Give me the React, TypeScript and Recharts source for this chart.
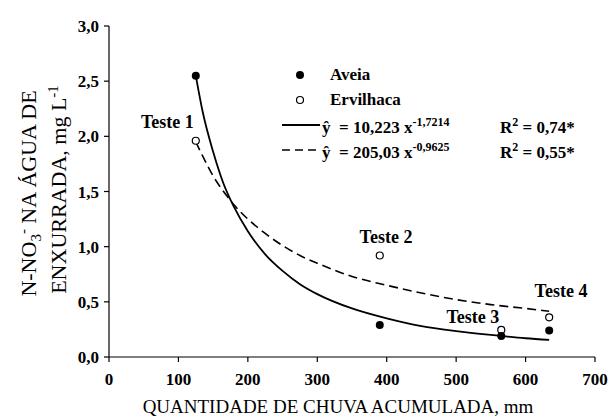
import { ComposedChart, XAxis, YAxis, Scatter, Line, Legend } from 'recharts';

const FONT = "'Liberation Serif', 'DejaVu Serif', serif";

const xTicks = [0, 100, 200, 300, 400, 500, 600, 700];
const yTicks = [0, 0.5, 1, 1.5, 2, 2.5, 3];

// observed points, one per test
const testeRain = [125, 390, 565, 634];
const aveiaNo3 = [2.55, 0.29, 0.19, 0.24];
const ervilhacaNo3 = [1.96, 0.92, 0.245, 0.36];

// fitted curves
const curveRain = [125, 135, 150, 165, 180, 200, 225, 250, 275, 300, 350, 400, 450, 500, 550, 600, 634];
const aveiaFit = [2.55, 2.22, 1.86, 1.57, 1.36, 1.14, 0.93, 0.78, 0.66, 0.57, 0.44, 0.35, 0.28, 0.235, 0.2, 0.17, 0.155];
const ervilhacaFit = [1.95, 1.82, 1.64, 1.5, 1.38, 1.25, 1.12, 1.01, 0.92, 0.85, 0.73, 0.65, 0.58, 0.52, 0.475, 0.44, 0.415];

const testeLabels = ['Teste 1', 'Teste 2', 'Teste 3', 'Teste 4'];
const labelRain = [84, 399, 524, 651];
const labelNo3 = [2.08, 1.03, 0.31, 0.54];

const aveiaPts = testeRain.map((x, i) => ({ x, y: aveiaNo3[i] }));
const ervilhacaPts = testeRain.map((x, i) => ({ x, y: ervilhacaNo3[i] }));
const aveiaCurve = curveRain.map((x, i) => ({ x, y: aveiaFit[i] }));
const ervilhacaCurve = curveRain.map((x, i) => ({ x, y: ervilhacaFit[i] }));
const labelPts = testeLabels.map((name, i) => ({ x: labelRain[i], y: labelNo3[i], name }));

const fmtY = (v: number) => v.toFixed(1).replace('.', ',');

function FilledDot(props: any) {
  return <circle cx={props.cx} cy={props.cy} r={4} fill="#000" />;
}

function OpenDot(props: any) {
  return <circle cx={props.cx} cy={props.cy} r={3.5} fill="#fff" stroke="#000" strokeWidth={1.2} />;
}

function TestLabel(props: any) {
  return (
    <text x={props.cx} y={props.cy} textAnchor="middle" style={{ fontFamily: FONT }} fontWeight="bold" fontSize={18} fill="#000">
      {props.payload.name}
    </text>
  );
}

function YTitle(props: any) {
  const vb = props.viewBox;
  const cy = vb.y + vb.height / 2;
  return (
    <g style={{ fontFamily: FONT }} fontSize={22} fill="#000">
      <text x={36} y={cy + 2} textAnchor="middle" transform={`rotate(-90, 36, ${cy + 2})`}>
        N-NO<tspan dy={5} fontSize={15}>3</tspan>
        <tspan dy={-13} fontSize={15}>-</tspan>
        <tspan dy={8}> NA ÁGUA DE</tspan>
      </text>
      <text x={66} y={cy - 2} textAnchor="middle" transform={`rotate(-90, 66, ${cy - 2})`}>
        ENXURRADA, mg L<tspan dy={-8} fontSize={15}>-1</tspan>
      </text>
    </g>
  );
}

function XTitle(props: any) {
  const vb = props.viewBox;
  return (
    <text x={vb.x + vb.width / 2 - 14} y={vb.y + 56} textAnchor="middle" style={{ fontFamily: FONT }} fontSize={19} fill="#000">
      QUANTIDADE DE CHUVA ACUMULADA, mm
    </text>
  );
}

function LegendBox() {
  const row = { display: 'flex', alignItems: 'center', height: 25, whiteSpace: 'nowrap' as const };
  const sym = { width: 44, display: 'flex', justifyContent: 'center' };
  return (
    <div style={{ fontFamily: FONT, fontSize: 17, fontWeight: 'bold', color: '#000', lineHeight: '25px' }}>
      <div style={row}>
        <span style={sym}><svg width={10} height={10}><circle cx={5} cy={5} r={4} fill="#000" /></svg></span>
        <span style={{ marginLeft: 8 }}>Aveia</span>
      </div>
      <div style={row}>
        <span style={sym}><svg width={10} height={10}><circle cx={5} cy={5} r={3.5} fill="#fff" stroke="#000" strokeWidth={1.2} /></svg></span>
        <span style={{ marginLeft: 8 }}>Ervilhaca</span>
      </div>
      <div style={row}>
        <span style={sym}><svg width={40} height={6}><line x1={2} y1={3} x2={40} y2={3} stroke="#000" strokeWidth={1.8} /></svg></span>
        <span style={{ width: 178 }}>ŷ&nbsp;&nbsp;= 10,223 x<sup style={{ fontSize: 12 }}>-1,7214</sup></span>
        <span>R<sup style={{ fontSize: 12 }}>2</sup> = 0,74*</span>
      </div>
      <div style={row}>
        <span style={sym}><svg width={40} height={6}><line x1={2} y1={3} x2={40} y2={3} stroke="#000" strokeWidth={1.5} strokeDasharray="8 5" /></svg></span>
        <span style={{ width: 178 }}>ŷ&nbsp;&nbsp;= 205,03 x<sup style={{ fontSize: 12 }}>-0,9625</sup></span>
        <span>R<sup style={{ fontSize: 12 }}>2</sup> = 0,55*</span>
      </div>
    </div>
  );
}

export default function App() {
  const tick = { fill: '#000', fontSize: 17, fontWeight: 'bold', style: { fontFamily: FONT } };
  return (
    <div style={{ position: 'fixed', left: 0, top: 0, width: 613, height: 417, background: '#fff', fontFamily: FONT }}>
      <ComposedChart width={613} height={417} margin={{ top: 26, right: 18, left: 0, bottom: 0 }} style={{ fontFamily: FONT }}>
        <XAxis
          dataKey="x"
          type="number"
          domain={[0, 700]}
          ticks={xTicks}
          tick={tick}
          tickSize={5}
          tickMargin={11}
          height={60}
          stroke="#000"
          strokeWidth={1.2}
          label={{ content: XTitle }}
        />
        <YAxis
          dataKey="y"
          type="number"
          domain={[0, 3]}
          ticks={yTicks}
          tickFormatter={fmtY}
          tick={tick}
          tickSize={5}
          tickMargin={5}
          width={109}
          stroke="#000"
          strokeWidth={1.2}
          label={{ content: YTitle }}
        />
        <Line data={aveiaCurve} dataKey="y" type="monotone" stroke="#000" strokeWidth={1.8} dot={false} isAnimationActive={false} />
        <Line data={ervilhacaCurve} dataKey="y" type="monotone" stroke="#000" strokeWidth={1.6} strokeDasharray="9 5" dot={false} isAnimationActive={false} />
        <Scatter data={ervilhacaPts} dataKey="y" shape={OpenDot} isAnimationActive={false} />
        <Scatter data={aveiaPts} dataKey="y" shape={FilledDot} isAnimationActive={false} />
        <Scatter data={labelPts} dataKey="y" shape={TestLabel} isAnimationActive={false} />
        <Legend
          layout="vertical"
          align="center"
          verticalAlign="middle"
          wrapperStyle={{ left: 278, top: 62, width: 330 }}
          content={LegendBox}
        />
      </ComposedChart>
    </div>
  );
}
